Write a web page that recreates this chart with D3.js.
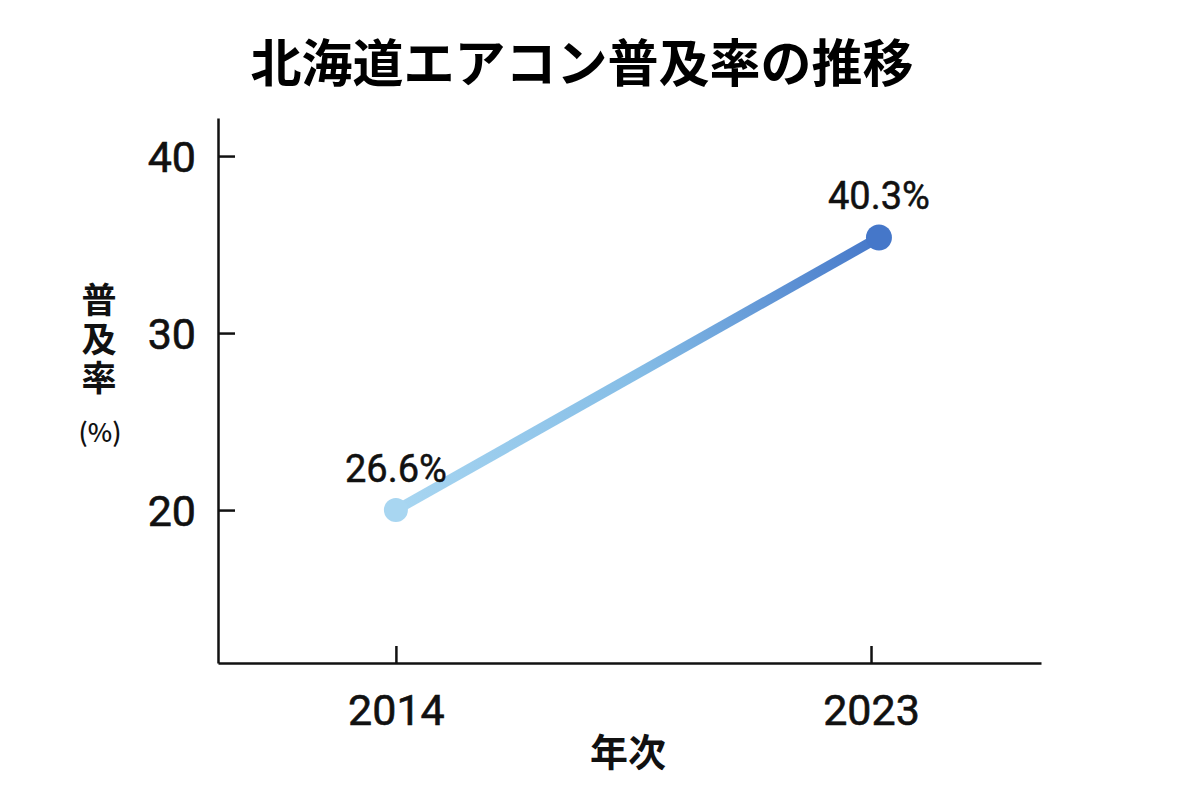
<!DOCTYPE html>
<html><head><meta charset="utf-8">
<script src="https://cdn.jsdelivr.net/npm/d3@7"></script>
<style>body{margin:0;background:#fff}svg{display:block}</style>
</head><body>
<script>
const titleText = "北海道エアコン普及率の推移";
const years = [2014, 2023];
const xPositions = [2014, 2023.15];
const plotValues = [20, 35.4];
const labelTexts = ["26.6%", "40.3%"];
const yTicks = [20, 30, 40];
const xTicks = [2014, 2023];
const yLabelMain = "普及率";
const yLabelUnit = "(%)";
const xLabel = "年次";
const colors = ["#a8d6f1", "#4577c9"];

const W = 1200, H = 800;
const m = {left: 218, right: 1041, top: 118, bottom: 663};
const svg = d3.select("body").append("svg").attr("width", W).attr("height", H);
const x = d3.scaleLinear().domain([2010.63, 2026.22]).range([m.left, m.right]);
const y = d3.scaleLinear().domain([11.36, 42.15]).range([m.bottom, m.top]);
const numFont = "Roboto, 'Noto Sans', sans-serif";
const jpFont = "'Noto Sans CJK JP', sans-serif";

svg.append("text").attr("x", 582).attr("y", 82).attr("text-anchor", "middle")
  .attr("font-family", jpFont).attr("font-weight", 700).attr("font-size", 51).text(titleText);

const yAxis = svg.append("g").attr("transform", `translate(${m.left},0)`)
  .call(d3.axisLeft(y).tickValues(yTicks).tickSize(-17).tickPadding(22).tickSizeOuter(0));
const xAxis = svg.append("g").attr("transform", `translate(0,${m.bottom})`)
  .call(d3.axisBottom(x).tickValues(xTicks).tickFormat(d3.format("d")).tickSize(-17).tickPadding(38).tickSizeOuter(0));
[yAxis, xAxis].forEach(g => {
  g.select(".domain").attr("stroke", "#111").attr("stroke-width", 2.5);
  g.selectAll(".tick line").attr("stroke", "#111").attr("stroke-width", 2.5);
  g.selectAll(".tick text").attr("fill", "#111").attr("font-family", numFont).attr("font-weight", 400).attr("font-size", 43)
    .attr("stroke", "#111").attr("stroke-width", 0.6);
});
yAxis.selectAll(".tick text").attr("dy", "0.36em");
xAxis.selectAll(".tick text").attr("dy", "0.55em");

const pts = years.map((yr, i) => ({xv: xPositions[i], yv: plotValues[i], label: labelTexts[i], c: colors[i]}));
const defs = svg.append("defs");
const grad = defs.append("linearGradient").attr("id", "lg").attr("gradientUnits", "userSpaceOnUse")
  .attr("x1", x(pts[0].xv)).attr("y1", y(pts[0].yv)).attr("x2", x(pts[1].xv)).attr("y2", y(pts[1].yv));
grad.append("stop").attr("offset", "0%").attr("stop-color", colors[0]);
grad.append("stop").attr("offset", "50%").attr("stop-color", "#85bde6");
grad.append("stop").attr("offset", "100%").attr("stop-color", colors[1]);

svg.append("path").datum(pts)
  .attr("d", d3.line().x(d => x(d.xv)).y(d => y(d.yv)))
  .attr("fill", "none").attr("stroke", "url(#lg)").attr("stroke-width", 10);

svg.selectAll("circle.pt").data(pts).join("circle").attr("class", "pt")
  .attr("cx", d => x(d.xv)).attr("cy", d => y(d.yv)).attr("r", (d, i) => i === 0 ? 12 : 13)
  .attr("fill", d => d.c);

svg.selectAll("text.val").data(pts).join("text").attr("class", "val")
  .attr("x", d => x(d.xv)).attr("y", d => y(d.yv) - 28).attr("text-anchor", "middle")
  .attr("font-family", numFont).attr("font-weight", 400).attr("font-size", 38).attr("fill", "#111")
  .attr("stroke", "#111").attr("stroke-width", 0.5).text(d => d.label);

svg.append("text").attr("x", 99).attr("y", 341).attr("text-anchor", "middle")
  .style("writing-mode", "vertical-rl").attr("letter-spacing", 4)
  .attr("font-family", jpFont).attr("font-weight", 700).attr("font-size", 35).attr("fill", "#111").text(yLabelMain);
svg.append("text").attr("x", 100).attr("y", 442).attr("text-anchor", "middle")
  .attr("font-family", jpFont).attr("font-weight", 500).attr("font-size", 26).attr("fill", "#111").text(yLabelUnit);

svg.append("text").attr("x", 628).attr("y", 766).attr("text-anchor", "middle")
  .attr("font-family", jpFont).attr("font-weight", 700).attr("font-size", 38).attr("fill", "#111").text(xLabel);
</script>
</body></html>
